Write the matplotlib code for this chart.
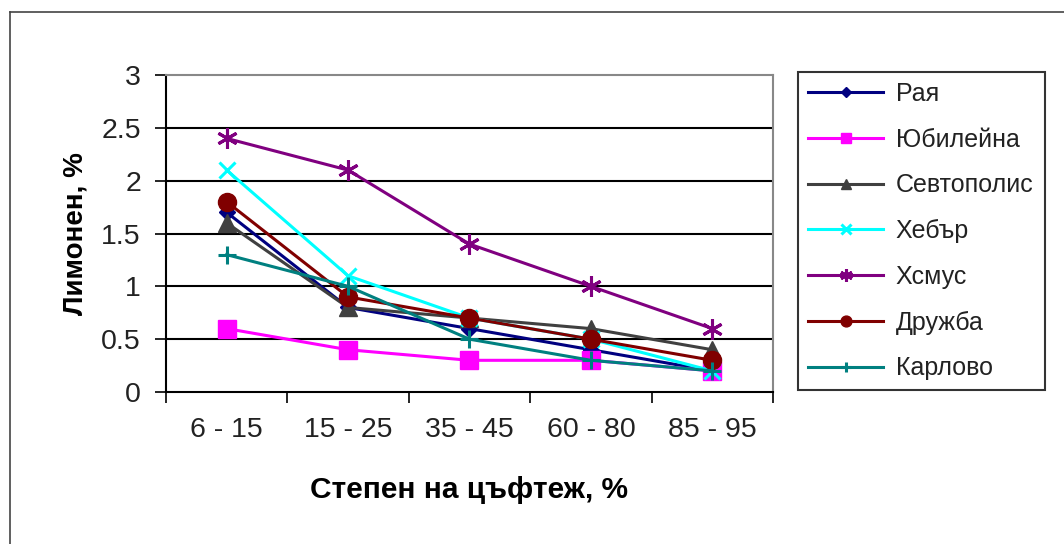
import matplotlib
matplotlib.use("Agg")
import matplotlib.pyplot as plt
from matplotlib.lines import Line2D

plt.rcParams['font.family'] = ['Liberation Sans', 'DejaVu Sans']

categories = ["6 - 15", "15 - 25", "35 - 45", "60 - 80", "85 - 95"]
raya = [1.7, 0.8, 0.6, 0.4, 0.2]
yubileyna = [0.6, 0.4, 0.3, 0.3, 0.2]
sevtopolis = [1.6, 0.8, 0.7, 0.6, 0.4]
hebar = [2.1, 1.1, 0.7, 0.5, 0.2]
hsmus = [2.4, 2.1, 1.4, 1.0, 0.6]
druzhba = [1.8, 0.9, 0.7, 0.5, 0.3]
karlovo = [1.3, 1.0, 0.5, 0.3, 0.2]
yticks = [0, 0.5, 1, 1.5, 2, 2.5, 3]
ytick_labels = ["0", "0.5", "1", "1.5", "2", "2.5", "3"]

series = [
    ("Рая", raya, "#000080", "D", 8),
    ("Юбилейна", yubileyna, "#FF00FF", "s", 13),
    ("Севтополис", sevtopolis, "#404040", "^", 13),
    ("Хебър", hebar, "#00FFFF", "x", 12),
    ("Хсмус", hsmus, "#800080", (6, 2, 0), 15),
    ("Дружба", druzhba, "#800000", "o", 13),
    ("Карлово", karlovo, "#008080", "+", 13),
]

fig = plt.figure(figsize=(10.64, 5.44), dpi=100)
ax = fig.add_axes([0.156, 0.2794, 0.5705, 0.5827])

x = list(range(len(categories)))
for name, vals, col, mk, ms in series:
    ax.plot(x, vals, color=col, lw=2.2, marker=mk, markersize=ms,
            markeredgewidth=2.2 if mk in ("x", "+", (6, 2, 0)) else 1,
            markerfacecolor=col, markeredgecolor=col, label=name, zorder=3)

ax.set_xlim(-0.5, 4.5)
ax.set_ylim(0, 3)
ax.set_yticks(yticks)
ax.set_yticklabels(ytick_labels)
ax.set_xticks(x)
ax.set_xticklabels(categories)
ax.set_xticks([i - 0.5 for i in range(len(categories) + 1)], minor=True)
ax.tick_params(axis='x', which='major', length=0, pad=18, labelsize=20.5)
ax.tick_params(axis='x', which='minor', length=8, width=1.2, direction='out', color='black')
ax.tick_params(axis='y', length=8, width=1.2, direction='out', pad=10, labelsize=20.5)
ax.tick_params(axis='both', labelcolor='#222222')
for yv in yticks[1:-1]:
    ax.axhline(yv, color='black', lw=1.5, zorder=1)
ax.spines['left'].set_color('black')
ax.spines['left'].set_linewidth(1.5)
ax.spines['bottom'].set_color('black')
ax.spines['bottom'].set_linewidth(1.5)
ax.spines['top'].set_color('#888888')
ax.spines['top'].set_linewidth(1.5)
ax.spines['right'].set_color('#888888')
ax.spines['right'].set_linewidth(1.5)

ax.set_ylabel("Лимонен, %", fontsize=20, fontweight='bold', labelpad=9)
ax.set_xlabel("Степен на цъфтеж, %", fontsize=21.5, fontweight='bold', labelpad=24)

leg = fig.legend(loc='upper left', bbox_to_anchor=(0.75, 0.283, 0.232, 0.585),
                 mode='expand', borderaxespad=0, fontsize=18, markerscale=0.6,
                 handlelength=3.0, handletextpad=0.5, labelspacing=0.87,
                 borderpad=0.4, frameon=True, fancybox=False, edgecolor='black')
leg.get_frame().set_linewidth(1.5)
for t in leg.get_texts():
    t.set_color('#222222')

# outer chart border (top and left visible)
fig.add_artist(Line2D([10/1064, 1.0], [1 - 12/544, 1 - 12/544], transform=fig.transFigure,
                      color='#444444', lw=1.2))
fig.add_artist(Line2D([10/1064, 10/1064], [0.0, 1 - 12/544], transform=fig.transFigure,
                      color='#444444', lw=1.2))

fig.savefig("out.png", dpi=100)
